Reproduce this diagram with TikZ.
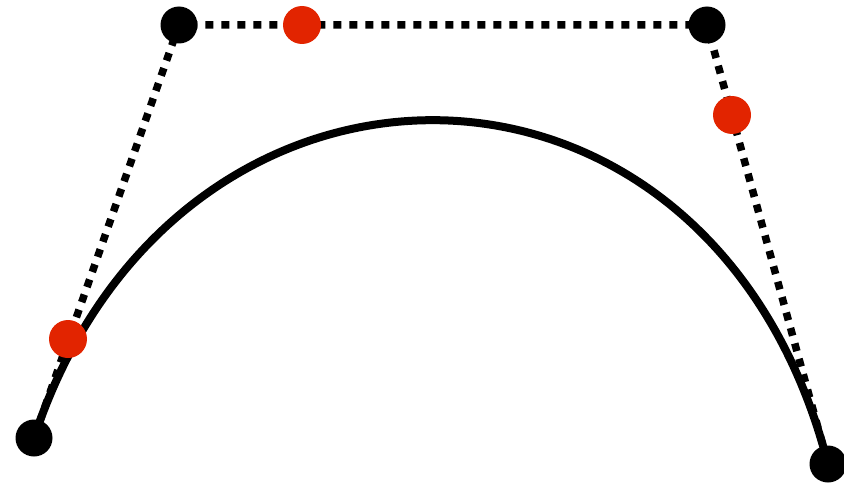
\documentclass[tikz,border=0pt]{standalone}
\usepackage{tikz}

\begin{document}
\begin{tikzpicture}[x=1pt, y=-1pt,
  knot/.style={circle, fill=black, inner sep=0pt, minimum size=37pt},
  mid/.style={circle, fill={rgb,255:red,226;green,36;blue,0}, inner sep=0pt, minimum size=38pt},
  hull/.style={line width=7.5pt, dash pattern=on 8pt off 8pt},
  curve/.style={line width=8pt}
]
\useasboundingbox (0,0) rectangle (844,487);
\coordinate (p0) at (34,438);
\coordinate (p1) at (179,25);
\coordinate (p2) at (707,25);
\coordinate (p3) at (828,464);
\coordinate (c1) at (175,10);
\coordinate (c2) at (711,10);
\draw[hull] (p0) -- (p1) -- (p2) -- (p3);
\draw[curve] (p0) .. controls (c1) and (c2) .. (p3);
\node[knot] (k0) at (p0) {};
\node[knot] (k1) at (p1) {};
\node[knot] (k2) at (p2) {};
\node[knot] (k3) at (p3) {};
\node[mid] (m0) at (68,339) {};
\node[mid] (m1) at (302,25) {};
\node[mid] (m2) at (732,115) {};
\end{tikzpicture}
\end{document}
